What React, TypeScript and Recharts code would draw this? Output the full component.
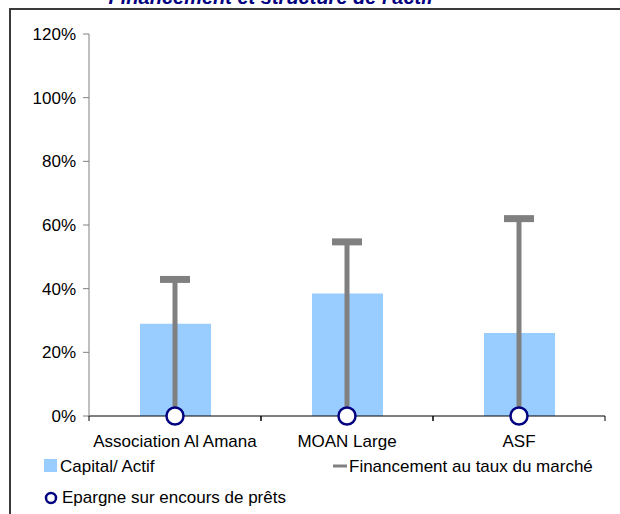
import { ComposedChart, Bar, Line, XAxis, YAxis } from 'recharts';

const categories = ['Association Al Amana', 'MOAN Large', 'ASF'];
const capitalActif = [0.29, 0.385, 0.261];
const financementMarche = [0.429, 0.547, 0.62];
const epargneEncours = [0, 0, 0];
const yTicks = [0, 0.2, 0.4, 0.6, 0.8, 1.0, 1.2];

const FONT = '"Liberation Sans", Arial, sans-serif';
const BLUE = '#99ccff';
const GRAY = '#808080';
const NAVY = '#000080';

const W = 620;
const H = 514;
const MARGIN = { top: 34, right: 15, bottom: 68, left: 29 };
const Y_W = 60;
const TICK_GAP = 19;
// half of one category band, used for the divider ticks under the x axis
const HALF_BAND = (W - MARGIN.left - MARGIN.right - Y_W) / categories.length / 2;

const data = categories.map((name, i) => ({
  name,
  capital: capitalActif[i],
  financement: financementMarche[i],
  epargne: epargneEncours[i],
}));

// vertical stem from 0 up to the value, with a flat cap on top
function FinancementShape(props: any) {
  const { x, y, width, height } = props;
  const cx = x + width / 2;
  return (
    <g>
      <line x1={cx} x2={cx} y1={y} y2={y + height} stroke={GRAY} strokeWidth={5} />
      <rect x={x} y={y - 3.5} width={width} height={7} fill={GRAY} />
    </g>
  );
}

// category label plus the small tick marks between categories
function CategoryTick(props: any) {
  const { x, y, payload } = props;
  const axisY = y - TICK_GAP;
  return (
    <g>
      <line x1={x - HALF_BAND} x2={x - HALF_BAND} y1={axisY} y2={axisY + 5} stroke="#000" />
      <line x1={x + HALF_BAND} x2={x + HALF_BAND} y1={axisY} y2={axisY + 5} stroke="#000" />
      <text x={x} y={y} dy="0.71em" textAnchor="middle" fontSize={17} fill="#000" fontFamily={FONT}>
        {payload.value}
      </text>
    </g>
  );
}

export default function App() {
  return (
    <div
      style={{
        position: 'absolute',
        left: 0,
        top: 0,
        width: W,
        height: H,
        overflow: 'hidden',
        background: '#fff',
        fontFamily: FONT,
      }}
    >
      <ComposedChart width={W} height={H} data={data} margin={MARGIN} style={{ fontFamily: FONT }}>
        <XAxis
          xAxisId="cat"
          dataKey="name"
          stroke="#000"
          tickLine={false}
          tickSize={0}
          tickMargin={TICK_GAP}
          height={30}
          interval={0}
          tick={<CategoryTick />}
        />
        <XAxis xAxisId="fin" dataKey="name" hide />
        <YAxis
          domain={[0, 1.2]}
          ticks={yTicks}
          width={Y_W}
          stroke={GRAY}
          tickSize={6}
          tickMargin={7}
          tick={{ fill: '#000', fontSize: 17 }}
          tickFormatter={(v) => `${Math.round(v * 100)}%`}
        />
        <Bar xAxisId="cat" dataKey="capital" fill={BLUE} barSize={71} isAnimationActive={false} />
        <Bar
          xAxisId="fin"
          dataKey="financement"
          barSize={30}
          shape={<FinancementShape />}
          isAnimationActive={false}
        />
        <Line
          xAxisId="cat"
          dataKey="epargne"
          stroke="none"
          dot={{ r: 8.5, fill: '#fff', stroke: NAVY, strokeWidth: 2.5 }}
          activeDot={false}
          isAnimationActive={false}
        />
      </ComposedChart>

      <svg
        width={W}
        height={H}
        style={{ position: 'absolute', left: 0, top: 0, pointerEvents: 'none' }}
      >
        <text
          x={271}
          y={4}
          textAnchor="middle"
          fontSize={20}
          fontWeight="bold"
          fontStyle="italic"
          fill={NAVY}
          fontFamily={FONT}
        >
          Financement et structure de l'actif
        </text>
        <rect x={10} y={9} width={700} height={600} fill="none" stroke="#3a3a3a" strokeWidth={2} />

        <rect x={44} y={459} width={13} height={13} fill={BLUE} />
        <text x={60} y={472} fontSize={17} fill="#000" fontFamily={FONT}>
          Capital/ Actif
        </text>
        <line x1={333} x2={347} y1={466} y2={466} stroke={GRAY} strokeWidth={3} />
        <text x={349} y={472} fontSize={17} fill="#000" fontFamily={FONT}>
          Financement au taux du marché
        </text>
        <circle cx={51} cy={498} r={5} fill="#fff" stroke={NAVY} strokeWidth={2.5} />
        <text x={62} y={503} fontSize={17} fill="#000" fontFamily={FONT}>
          Epargne sur encours de prêts
        </text>
      </svg>
    </div>
  );
}
